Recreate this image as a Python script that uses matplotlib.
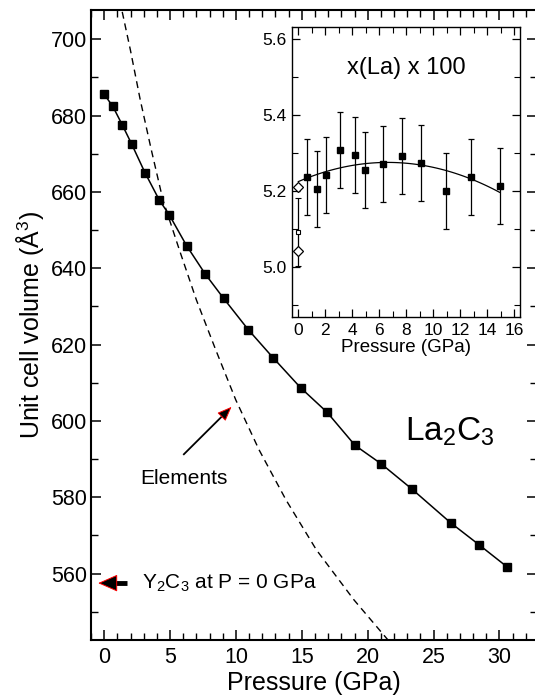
import numpy as np
import matplotlib
matplotlib.use("Agg")
import matplotlib.pyplot as plt
from matplotlib.ticker import MultipleLocator, FormatStrFormatter

plt.rcParams['font.family'] = ['Liberation Sans', 'DejaVu Sans']
plt.rcParams['mathtext.default'] = 'regular'

# La2C3 unit cell volume vs pressure
pressure = [0, 0.66, 1.37, 2.08, 3.09, 4.18, 4.94, 6.26, 7.67, 9.07, 10.94, 12.81,
            14.91, 16.91, 19.04, 21.01, 23.34, 26.3, 28.47, 30.6]
volume = [685.6, 682.4, 677.6, 672.6, 665.1, 657.9, 654.0, 645.9, 638.5, 632.1, 623.9, 616.6,
          608.7, 602.3, 593.6, 588.8, 582.2, 573.3, 567.5, 561.7]

# sum of the elements (dashed)
elem_p = [1.37, 1.99, 2.74, 3.58, 4.46, 5.71, 7.00, 8.47, 9.99, 11.76, 13.80, 16.11, 18.96, 21.54]
elem_v = [707.2, 697.2, 684.1, 671.0, 657.9, 644.8, 631.7, 618.6, 605.5, 592.4, 579.3, 566.2, 553.1, 542.6]

y2c3_v = 557.5

# inset: x(La) x 100
xla_p = pressure[1:13]
xla = [5.237, 5.205, 5.242, 5.307, 5.294, 5.255, 5.270, 5.292, 5.274, 5.199, 5.237, 5.213]
xla_err = [0.1] * 12
xla0_diamonds = [5.209, 5.041]
xla0_square = 5.092
xla0_err = 0.09

fig = plt.figure(figsize=(5.35, 6.96), dpi=100)
ax = fig.add_axes([0.1701, 0.0805, 0.8336, 0.9052])

ax.plot(pressure, volume, '-', color='k', lw=1.1, marker='s', ms=6.2, mfc='k', mec='k', zorder=3)
ax.plot(elem_p, elem_v, '--', color='k', lw=1.0, dashes=(5, 3.5), zorder=2)

ax.set_xlim(-1.0, 32.85)
ax.set_ylim(542.6, 707.7)
ax.xaxis.set_major_locator(MultipleLocator(5))
ax.xaxis.set_minor_locator(MultipleLocator(1))
ax.yaxis.set_major_locator(MultipleLocator(20))
ax.yaxis.set_minor_locator(MultipleLocator(10))
ax.tick_params(which='both', direction='in', top=True, right=True, labelsize=15.5)
ax.tick_params(which='major', length=7.5, width=1.1)
ax.tick_params(which='minor', length=5, width=1.0)
ax.tick_params(axis='x', pad=5)
ax.tick_params(axis='y', pad=3)
for s in ax.spines.values():
    s.set_linewidth(1.5)
ax.set_xlabel('Pressure (GPa)', fontsize=18, labelpad=2)
ax.set_ylabel('Unit cell volume (Å$^3$)', fontsize=18, labelpad=3)

ax.text(22.83, 594.8, 'La$_2$C$_3$', fontsize=24, va='baseline')
ax.text(6.05, 585.0, 'Elements', fontsize=15, ha='center', va='center')
ax.text(2.84, y2c3_v, 'Y$_2$C$_3$ at P = 0 GPa', fontsize=15, ha='left', va='center')


def arrow(tail, tip, lw, hl, hw):
    ms = 10
    t0 = ax.transData.transform(tail)
    t1 = ax.transData.transform(tip)
    d = (t1 - t0) / np.hypot(*(t1 - t0))
    base = ax.transData.inverted().transform(t1 - d * hl * ms * fig.dpi / 72.0)
    # black shaft up to the head
    ax.plot([tail[0], base[0]], [tail[1], base[1]], '-', color='k', lw=lw, solid_capstyle='butt')
    # filled head with red rim
    ax.annotate('', xy=tip, xytext=base,
                arrowprops=dict(arrowstyle='-|>,head_length=%g,head_width=%g' % (hl, hw),
                                fc='k', ec='red', lw=0.7, shrinkA=0, shrinkB=0, mutation_scale=ms))


arrow((6.0, 591.1), (9.67, 603.7), 1.3, 0.9, 0.36)
arrow((1.70, y2c3_v), (-0.46, y2c3_v), 3.5, 1.25, 0.55)

# inset
ins = fig.add_axes([0.5452, 0.545, 0.4267, 0.4167])
ins.set_facecolor('white')
fit = np.polyfit(xla_p, xla, 2)
pp = np.linspace(0, xla_p[-1], 100)
ins.plot(pp, np.polyval(fit, pp), '-', color='k', lw=0.9)
ins.errorbar(xla_p, xla, yerr=xla_err, fmt='s', color='k', ms=4.2, elinewidth=0.9, capsize=2.2, capthick=0.9)
ins.errorbar([0], [xla0_square], yerr=[xla0_err], fmt='s', mfc='white', mec='k', color='k',
             ms=3.2, mew=0.8, elinewidth=0.9, capsize=2.2, capthick=0.9)
ins.plot([0] * len(xla0_diamonds), xla0_diamonds, 'D', mfc='white', mec='k', ms=5.5, mew=0.9, zorder=4)

ins.set_xlim(-0.49, 16.42)
ins.set_ylim(4.868, 5.633)
ins.xaxis.set_major_locator(MultipleLocator(2))
ins.xaxis.set_minor_locator(MultipleLocator(1))
ins.yaxis.set_major_locator(MultipleLocator(0.2))
ins.yaxis.set_minor_locator(MultipleLocator(0.1))
ins.yaxis.set_major_formatter(FormatStrFormatter('%.1f'))
ins.tick_params(which='both', direction='in', top=True, right=True, labelsize=12.5)
ins.tick_params(which='major', length=6, width=0.9)
ins.tick_params(which='minor', length=4, width=0.8)
ins.tick_params(axis='x', pad=4.5)
for s in ins.spines.values():
    s.set_linewidth(1.0)
ins.set_xlabel('Pressure (GPa)', fontsize=13.5, labelpad=1)
ins.text(0.5, 0.858, 'x(La) x 100', transform=ins.transAxes, fontsize=17, ha='center', va='center')

fig.savefig('out.png', dpi=100)
